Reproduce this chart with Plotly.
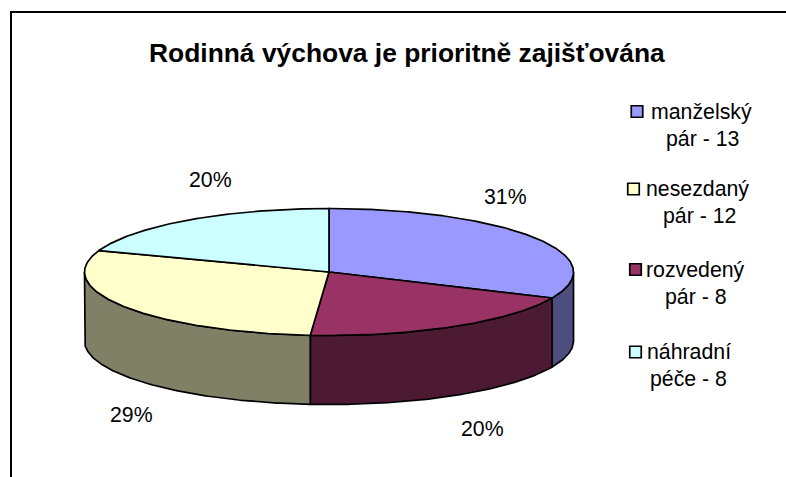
import numpy as np
import plotly.graph_objects as go

# ---- data ----
categories = ["manželský pár", "rozvedený pár", "nesezdaný pár", "náhradní péče"]
values = [13, 8, 12, 8]
pct_labels = ["31%", "20%", "29%", "20%"]
top_colors = ["#9999FF", "#993366", "#FFFFCC", "#CCFFFF"]
side_colors = ["#4D4D80", "#4D1A33", "#808066", "#668080"]
legend_line1 = ["manželský", "nesezdaný", "rozvedený", "náhradní"]
legend_line2 = ["pár - 13", "pár - 12", "pár - 8", "péče - 8"]
legend_colors = ["#9999FF", "#FFFFCC", "#993366", "#CCFFFF"]
title = "Rodinná výchova je prioritně zajišťována"

# ---- layout constants (page pixels) ----
W, H = 786, 477
CX, CY, RX, RY, DEPTH = 329, 272, 244.5, 63.5, 69
LINE = dict(color="black", width=1.7)
FONT = "Liberation Sans, Arial, sans-serif"
PCT_POS = [(505.5, 197), (482.5, 429), (131.5, 415), (210.5, 180)]
LEG_TEXT1_POS = [(701, 112), (697, 189), (695, 270), (689, 352)]
LEG_TEXT2_POS = [(702, 139), (699, 216), (696, 297), (688, 379)]
LEG_SWATCH_POS = [(637, 111.5), (633.5, 189), (635.5, 269.5), (635.5, 352)]


def ell(theta):
    return CX + RX * np.sin(theta), CY - RY * np.cos(theta)


fig = go.Figure()
edges = np.cumsum([0] + values) / sum(values) * 2 * np.pi


def poly(x, y, color):
    fig.add_trace(go.Scatter(x=list(x), y=list(y), mode="lines", fill="toself",
                             fillcolor=color, line=LINE, hoverinfo="skip",
                             showlegend=False))


# side walls first (only the front half, theta in 90..270 deg)
for i in range(len(values)):
    a = max(edges[i], np.pi / 2)
    b = min(edges[i + 1], 3 * np.pi / 2)
    if b <= a:
        continue
    t = np.linspace(a, b, 120)
    x, y = ell(t)
    poly(np.r_[x, x[::-1], x[0]], np.r_[y, y[::-1] + DEPTH, y[0]], side_colors[i])

# top surface
for i in range(len(values)):
    t = np.linspace(edges[i], edges[i + 1], 200)
    x, y = ell(t)
    poly(np.r_[CX, x, CX], np.r_[CY, y, CY], top_colors[i])

# chart frame (only the left and top sides are in view)
fig.add_trace(go.Scatter(x=[11, 11, W], y=[H, 12, 12], mode="lines",
                         line=dict(color="black", width=2),
                         hoverinfo="skip", showlegend=False))

ann = []


def text(x, y, s, size=21.3, bold=False):
    ann.append(dict(x=x, y=y, text=f"<b>{s}</b>" if bold else s, showarrow=False,
                    xref="x", yref="y", xanchor="center", yanchor="middle",
                    font=dict(family=FONT, size=size, color="black")))


text(407, 53, title, size=26.4, bold=True)
for (x, y), s in zip(PCT_POS, pct_labels):
    text(x, y, s)

for p1, p2, sw, l1, l2, col in zip(LEG_TEXT1_POS, LEG_TEXT2_POS, LEG_SWATCH_POS,
                                   legend_line1, legend_line2, legend_colors):
    text(p1[0], p1[1], l1)
    text(p2[0], p2[1], l2)
    fig.add_trace(go.Scatter(x=[sw[0]], y=[sw[1]], mode="markers", hoverinfo="skip",
                             showlegend=False,
                             marker=dict(symbol="square", size=11.5, color=col,
                                         line=dict(color="black", width=1.7))))

fig.update_layout(
    width=W, height=H, margin=dict(l=0, r=0, t=0, b=0),
    paper_bgcolor="white", plot_bgcolor="white", annotations=ann,
    xaxis=dict(range=[0, W], visible=False, fixedrange=True),
    yaxis=dict(range=[H, 0], visible=False, fixedrange=True),
)
fig.write_html("out.html", config={"displayModeBar": False},
               post_script="document.body.style.margin='0';document.body.style.overflow='hidden';")
